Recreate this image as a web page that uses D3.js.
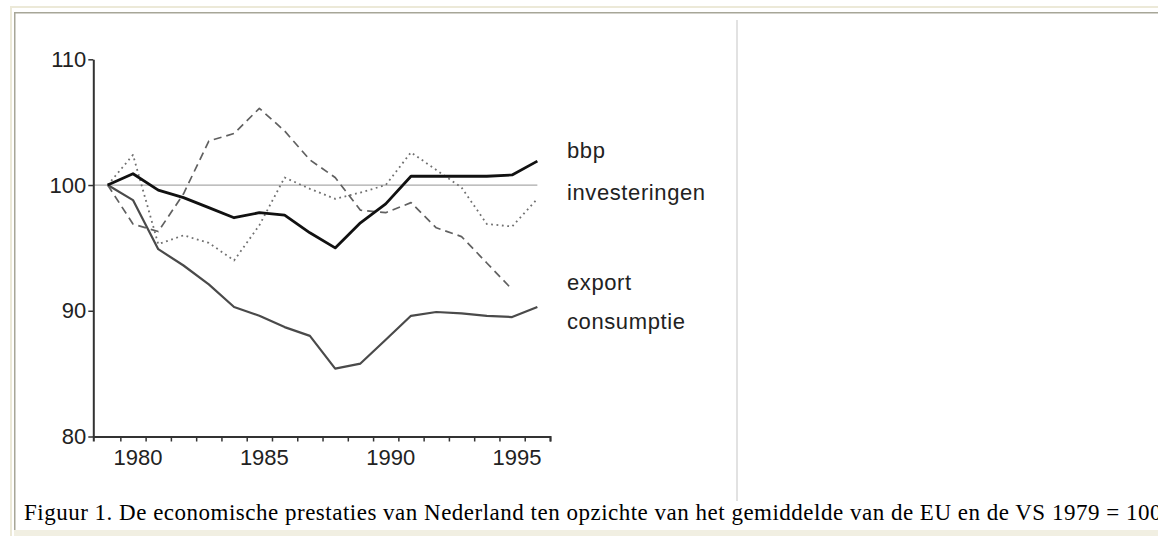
<!DOCTYPE html>
<html>
<head>
<meta charset="utf-8">
<script src="https://cdn.jsdelivr.net/npm/d3@7"></script>
<style>
  body { margin: 0; background: #fff; overflow: hidden; }
  svg { display: block; }
  .axis text { font-family: 'Liberation Sans', Arial, sans-serif; font-size: 22px; fill: #222; }
  .axis path, .axis line { stroke: #333; }
  .label { font-family: 'Liberation Sans', Arial, sans-serif; font-size: 22px; fill: #222; letter-spacing: 0.6px; }
  .caption { font-family: 'Liberation Serif', 'Times New Roman', serif; font-size: 23px; letter-spacing: 0.5px; fill: #000; }
</style>
</head>
<body>
<svg width="1158" height="536"></svg>
<script>
(function (d3) {
  'use strict';

  // years 1979 = 100
  const years = [1979, 1980, 1981, 1982, 1983, 1984, 1985, 1986, 1987, 1988,
                 1989, 1990, 1991, 1992, 1993, 1994, 1995, 1996];
  const bbp = [100, 100.9, 99.6, 99.0, 98.2, 97.4, 97.8, 97.6, 96.2, 95.0,
               97.0, 98.5, 100.7, 100.7, 100.7, 100.7, 100.8, 101.9];
  const investeringen = [100, 102.4, 95.3, 96.0, 95.4, 94.0, 96.8, 100.6, 99.7, 98.9,
                         99.4, 100.0, 102.6, 101.2, 99.8, 96.9, 96.7, 98.9];
  const exportValues = [100, 96.9, 96.3, 99.3, 103.5, 104.1, 106.1, 104.3, 102.0, 100.6,
                        98.0, 97.8, 98.6, 96.6, 95.9, 93.8, 91.7];
  const consumptie = [100, 98.8, 94.9, 93.6, 92.1, 90.3, 89.6, 88.7, 88.0, 85.4,
                      85.8, 87.7, 89.6, 89.9, 89.8, 89.6, 89.5, 90.3];

  const yTicks = [80, 90, 100, 110];
  const xLabelYears = [1980, 1985, 1990, 1995];
  const xTickYears = years.map(y => y + 0.5);
  const seriesNames = ['bbp', 'investeringen', 'export', 'consumptie'];
  const caption = 'Figuur 1. De economische prestaties van Nederland ten opzichte van het gemiddelde van de EU en de VS 1979 = 100';

  const svg = d3.select('svg');

  // page frame
  svg.append('rect').attr('x', 10).attr('y', 6).attr('width', 1148).attr('height', 2).attr('fill', '#ece9d8');
  svg.append('rect').attr('x', 10).attr('y', 6).attr('width', 2).attr('height', 530).attr('fill', '#ece9d8');
  svg.append('rect').attr('x', 14).attr('y', 12).attr('width', 1144).attr('height', 1.5).attr('fill', '#a7a698');
  svg.append('rect').attr('x', 14).attr('y', 12).attr('width', 1.5).attr('height', 520).attr('fill', '#a7a698');
  svg.append('rect').attr('x', 14).attr('y', 530).attr('width', 1144).attr('height', 6).attr('fill', '#f1efe2');
  svg.append('rect').attr('x', 736).attr('y', 20).attr('width', 2).attr('height', 481).attr('fill', '#e2e2e2');

  const xScale = d3.scaleLinear()
    .domain([1978.43, 1996.5])
    .range([93.3, 550]);

  const yScale = d3.scaleLinear()
    .domain([80, 110])
    .range([436.5, 59.3]);

  const g = svg.append('g');

  // reference line at 100
  g.append('line')
    .attr('x1', xScale.range()[0])
    .attr('x2', xScale(1996))
    .attr('y1', yScale(100))
    .attr('y2', yScale(100))
    .attr('stroke', '#aaa')
    .attr('stroke-width', 1.2);

  const yAxis = d3.axisLeft(yScale)
    .tickValues(yTicks)
    .tickSize(5)
    .tickSizeOuter(0)
    .tickPadding(2);

  const yAxisG = g.append('g')
    .attr('class', 'axis')
    .attr('transform', `translate(${xScale.range()[0]},0)`)
    .call(yAxis);
  yAxisG.select('.domain').attr('stroke-width', 2);
  yAxisG.selectAll('line').attr('stroke-width', 1.5);

  const xAxis = d3.axisBottom(xScale)
    .tickValues(xTickYears)
    .tickFormat('')
    .tickSize(5)
    .tickSizeOuter(5);

  const xAxisG = g.append('g')
    .attr('class', 'axis')
    .attr('transform', `translate(0,${yScale(80)})`)
    .call(xAxis);
  xAxisG.select('.domain').attr('stroke-width', 2);
  xAxisG.selectAll('line').attr('stroke-width', 1.5);

  const xLabels = d3.axisBottom(xScale)
    .tickValues(xLabelYears)
    .tickFormat(d3.format('d'))
    .tickSize(0)
    .tickPadding(13);

  const xLabelG = g.append('g')
    .attr('class', 'axis')
    .attr('transform', `translate(4.5,${yScale(80)})`)
    .call(xLabels);
  xLabelG.select('.domain').remove();

  const line = d3.line()
    .x(d => xScale(d[0]))
    .y(d => yScale(d[1]));

  const series = [
    { values: consumptie, stroke: '#4a4a4a', width: 2.2, dash: null },
    { values: exportValues, stroke: '#606060', width: 1.7, dash: '8,5' },
    { values: investeringen, stroke: '#707070', width: 1.8, dash: '1.8,3.6' },
    { values: bbp, stroke: '#111', width: 2.8, dash: null }
  ];

  g.selectAll('.series').data(series)
    .enter().append('path')
      .attr('class', 'series')
      .attr('fill', 'none')
      .attr('stroke', d => d.stroke)
      .attr('stroke-width', d => d.width)
      .attr('stroke-dasharray', d => d.dash)
      .attr('stroke-linejoin', 'round')
      .attr('d', d => line(d.values.map((v, i) => [years[i], v])));

  // series names to the right of the lines
  const labelBaselines = [158, 200, 290, 329];
  g.selectAll('.label').data(seriesNames)
    .enter().append('text')
      .attr('class', 'label')
      .attr('x', 567)
      .attr('y', (d, i) => labelBaselines[i])
      .text(d => d);

  svg.append('text')
    .attr('class', 'caption')
    .attr('x', 24)
    .attr('y', 520)
    .text(caption);

}(d3));
</script>
</body>
</html>
